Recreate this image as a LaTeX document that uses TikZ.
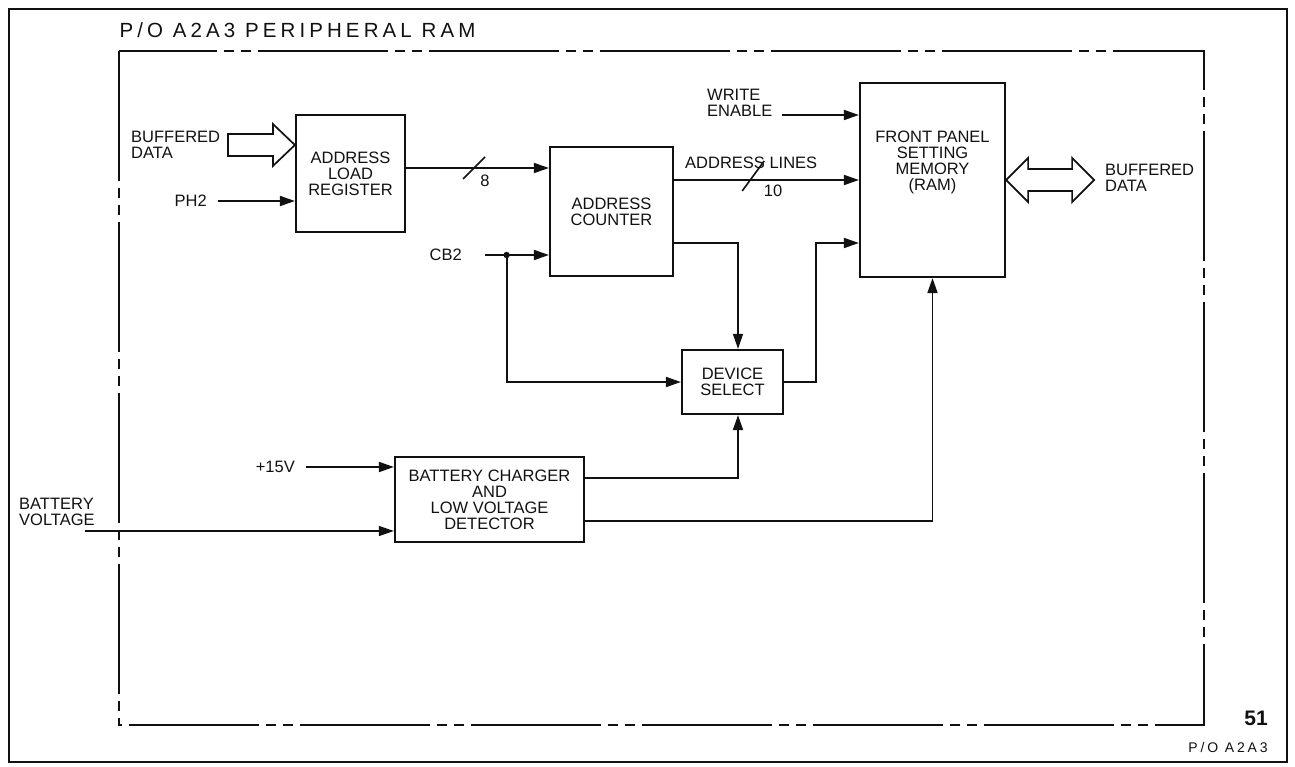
\documentclass[tikz,border=0pt]{standalone}
\usepackage{fontspec}
\setmainfont{Liberation Sans}
\newfontfamily\plotwide[LetterSpace=20]{Liberation Sans}
\usepackage{tikz}
\usetikzlibrary{arrows.meta}
\definecolor{Tinta}{HTML}{111111}

\begin{document}
\begin{tikzpicture}[
  x=1pt,y=-1pt,
  >={Triangle[length=15pt,width=10pt]},
  every node/.style={font=\fontsize{16.5}{16}\selectfont,text=Tinta},
  blk/.style={rectangle,draw=Tinta,line width=2.2pt,align=center,inner sep=0pt},
  sig/.style={->,draw=Tinta,line width=1.8pt},
  wire/.style={draw=Tinta,line width=1.6pt},
  lbl/.style={align=left,inner sep=0pt},
  hollow/.style={draw=Tinta,fill=white,line width=1.7pt,line join=miter}
]
  \useasboundingbox (0,0) rectangle (1295,767);
  \draw[Tinta,line width=2.2pt] (9,9) rectangle (1287,762);
  \draw[Tinta,line width=2.2pt,dash pattern=on 130pt off 7pt on 10pt off 7pt on 10pt off 7pt]
    (119,51) rectangle (1204,725);
  \node[anchor=west,font=\plotwide\fontsize{20.5}{22}\selectfont] (title) at (116,30)
    {P/O A2A3 PERIPHERAL RAM};

  \node[blk,minimum width=109,minimum height=117] (alr) at (350.5,173.5) {ADDRESS\\LOAD\\REGISTER};
  \node[blk,minimum width=123,minimum height=129] (ac) at (611.5,211.5) {ADDRESS\\COUNTER};
  \node[blk,minimum width=145,minimum height=194] (mem) at (932.5,180) {};
  \node[align=center] (memtxt) at ([yshift=18pt]mem.center) {FRONT PANEL\\SETTING\\MEMORY\\(RAM)};
  \node[blk,minimum width=101,minimum height=64] (ds) at (732.5,382) {DEVICE\\SELECT};
  \node[blk,minimum width=189,minimum height=85] (bclv) at (489.5,499.5)
    {BATTERY CHARGER\\AND\\LOW VOLTAGE\\DETECTOR};

  \node[lbl,anchor=west] (bdl) at (131,145) {BUFFERED\\DATA};
  \node[lbl,anchor=east] (ph2) at (207,201) {PH2};
  \node[lbl,anchor=east] (cb2) at (462,255) {CB2};
  \node[lbl,anchor=west] (we) at (707,103) {WRITE\\ENABLE};
  \node[lbl,anchor=east] (p15) at (295,467) {+15V};
  \node[lbl,anchor=west] (bv) at (19,512) {BATTERY\\VOLTAGE};
  \node[lbl,anchor=west] (bdr) at (1105,178) {BUFFERED\\DATA};
  \node[lbl,anchor=west] (adl) at (685,163) {ADDRESS LINES};

  \coordinate (ph2in) at (218,201);
  \coordinate (cb2in) at (485,255);
  \coordinate (wein) at (782,115);
  \coordinate (p15in) at (306,467);
  \coordinate (bvin) at (85,531);

  \draw[hollow] (alr.west |- bdl.center) -- ++(-22,-21) -- ++(0,10) -- ++(-45,0)
    -- ++(0,22) -- ++(45,0) -- ++(0,10) -- cycle;
  \draw[hollow] (mem.east) -- ++(22,-22) -- ++(0,11) -- ++(44,0) -- ++(0,-11)
    -- ++(22,22) -- ++(-22,22) -- ++(0,-11) -- ++(-44,0) -- ++(0,11) -- cycle;

  \draw[sig] (ph2in) -- (ph2in -| alr.west);
  \draw[sig] ([yshift=5.5pt]alr.east) -- coordinate[pos=0.476] (bus8) ([yshift=5.5pt]alr.east -| ac.west);
  \draw[wire] ([shift={(-11,11)}]bus8) -- ([shift={(11,-11)}]bus8);
  \node[lbl] (n8) at ([shift={(11,13)}]bus8) {8};

  \draw[sig] ([yshift=31.5pt]ac.east) -- coordinate[pos=0.417] (bus10) ([yshift=31.5pt]ac.east -| mem.west);
  \draw[wire] ([shift={(-9,11)}]bus10) -- ([shift={(13,-19)}]bus10);
  \node[lbl] (n10) at ([shift={(22,11)}]bus10) {10};

  \draw[sig] (wein) -- (wein -| mem.west);
  \draw[sig] (cb2in) -- coordinate[pos=0.338] (cbdot) (cb2in -| ac.west);
  \fill[Tinta] (cbdot) circle[radius=3.2pt];
  \draw[sig] (cbdot) |- (ds.west);
  \draw[sig,line width=1.2pt] ([yshift=-31.5pt]ac.east) -| ([xshift=5.5pt]ds.north);
  \draw[sig] (ds.east) -- ++(32,0) |- ([yshift=-63pt]mem.west);

  \draw[sig] (p15in) -- (p15in -| bclv.west);
  \draw[sig,line width=1.2pt] (bvin) -- (bvin -| bclv.west);
  \draw[sig] ([yshift=21.5pt]bclv.east) -| ([xshift=5.5pt]ds.south);
  \draw[sig] ([yshift=-21.5pt]bclv.east) -| (mem.south);

  \node[font=\bfseries\fontsize{21}{22}\selectfont] (sheet) at (1256,718) {51};
  \node[font=\plotwide\fontsize{14}{16}\selectfont] (part) at (1228,747) {P/O A2A3};
\end{tikzpicture}
\end{document}
